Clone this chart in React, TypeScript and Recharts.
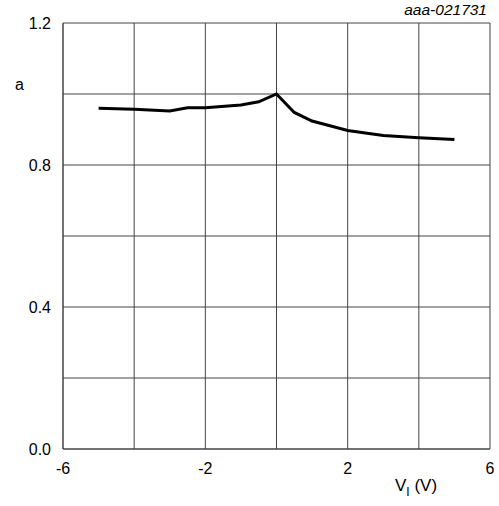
import { LineChart, Line, XAxis, YAxis, ReferenceLine } from 'recharts';

document.body.style.margin = '0';

// input voltage (V) and amplitude ratio a
const vi = [-5, -4, -3, -2.5, -2, -1, -0.5, 0, 0.5, 1, 2, 3, 4, 5];
const ratio = [0.96, 0.957, 0.952, 0.961, 0.961, 0.969, 0.978, 1.0, 0.948, 0.924, 0.897, 0.883, 0.877, 0.872];

const xTicks = [-6, -2, 2, 6];
const yTicks = [0, 0.4, 0.8, 1.2];
const xGrid = [-6, -4, -2, 0, 2, 4, 6];
const yGrid = [0, 0.2, 0.4, 0.6, 0.8, 1.0, 1.2];

const data = vi.map((v, i) => ({ v, a: ratio[i] }));

const font = 'Liberation Sans, Arial, sans-serif';
const gridColor = '#444';

export default function App() {
  return (
    <div style={{ width: 499, height: 506, background: '#fff' }}>
      <LineChart width={499} height={506} data={data} margin={{ top: 23, right: 9, bottom: 0, left: 0 }}>
        <XAxis
          type="number"
          dataKey="v"
          domain={[-6, 6]}
          ticks={xTicks}
          height={57}
          tickSize={0}
          tickMargin={14}
          axisLine={{ stroke: gridColor }}
          tick={{ fontFamily: font, fontSize: 16, fill: '#000' }}
          label={{
            content: () => (
              <text x={395} y={491} fontFamily={font} fontSize={17} fill="#000">
                V
                <tspan fontSize={12} dy={5}>I</tspan>
                <tspan dy={-5}> (V)</tspan>
              </text>
            ),
          }}
        />
        <YAxis
          type="number"
          domain={[0, 1.2]}
          ticks={yTicks}
          width={63}
          tickSize={0}
          tickMargin={12}
          axisLine={{ stroke: gridColor }}
          tickFormatter={(t: number) => t.toFixed(1)}
          tick={{ fontFamily: font, fontSize: 16, fill: '#000' }}
          label={{
            content: () => (
              <g>
                <text x={15} y={90} fontFamily={font} fontSize={16} fill="#000">a</text>
                <text x={487} y={15} textAnchor="end" fontFamily={font} fontSize={15.5} fontStyle="italic" fill="#000">
                  aaa-021731
                </text>
              </g>
            ),
          }}
        />
        {xGrid.map((x) => (
          <ReferenceLine key={'x' + x} x={x} stroke={gridColor} strokeWidth={1} ifOverflow="visible" />
        ))}
        {yGrid.map((y) => (
          <ReferenceLine key={'y' + y} y={y} stroke={gridColor} strokeWidth={1} ifOverflow="visible" />
        ))}
        <Line
          type="linear"
          dataKey="a"
          stroke="#000"
          strokeWidth={3}
          dot={false}
          isAnimationActive={false}
        />
      </LineChart>
    </div>
  );
}
